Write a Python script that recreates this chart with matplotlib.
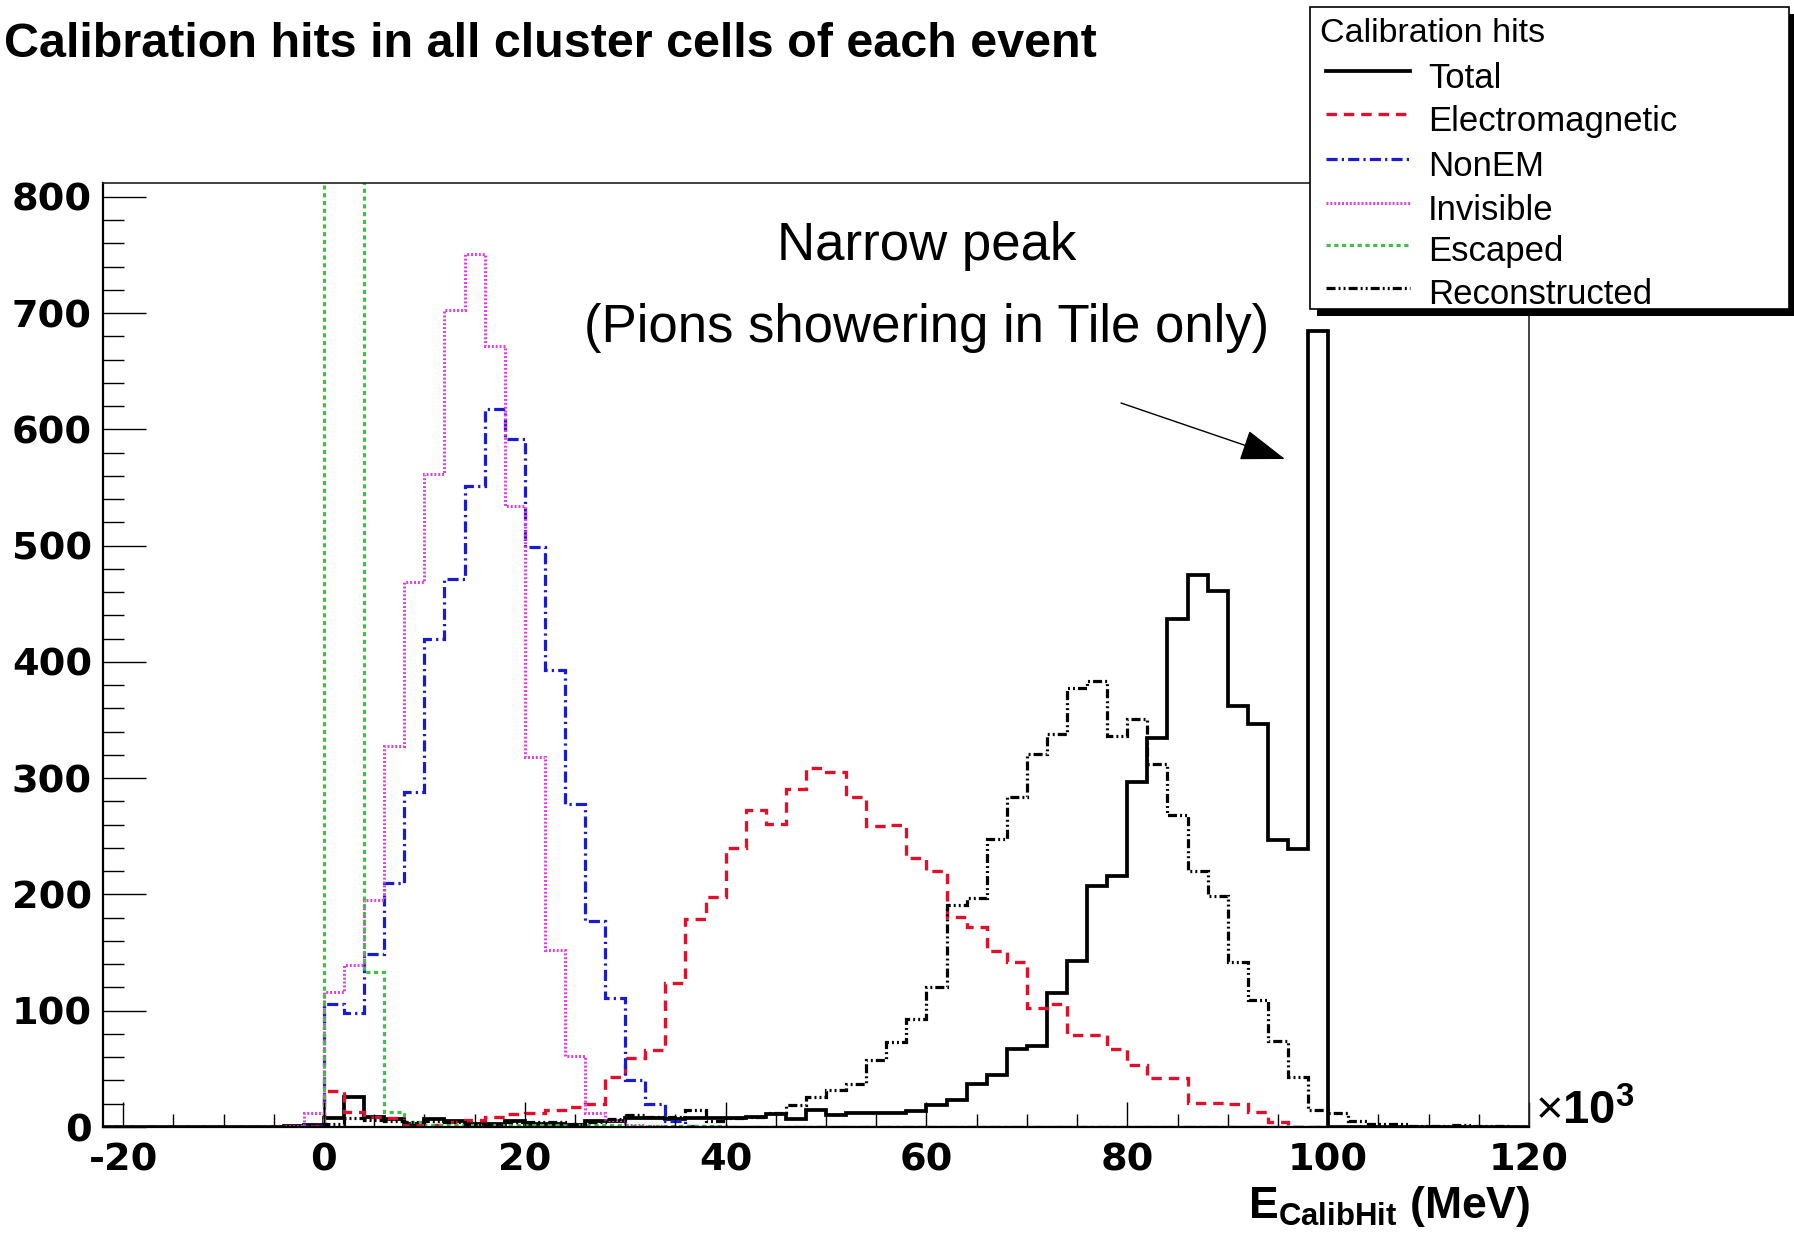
import numpy as np
import matplotlib
matplotlib.use("Agg")
import matplotlib.pyplot as plt
from matplotlib import font_manager as fm
from matplotlib.patches import Rectangle
from matplotlib.lines import Line2D

# ---------------- data (bins of 2 x10^3 MeV, from -22 to 120) ----------------
bin_lo = -22
bin_width = 2
total = [0, 0, 0, 0, 0, 0, 0, 0, 0, 1, 2,
         8, 26, 9, 7, 3, 7, 5, 3, 3, 5,
         3, 3, 2, 5, 5, 8, 8, 7, 8, 8,
         8, 9, 11, 7, 15, 10, 12, 12, 12, 14,
         19, 23, 37, 45, 67, 70, 115, 143, 207, 216,
         297, 335, 437, 475, 461, 362, 347, 247, 239, 685,
         0, 0, 0, 0, 0, 0, 0, 0, 0, 0]
electromagnetic = [0, 0, 0, 0, 0, 0, 0, 0, 0, 0, 1,
                   31, 13, 9, 8, 3, 2, 4, 6, 9, 11,
                   12, 15, 17, 20, 43, 59, 66, 124, 179, 198,
                   240, 273, 261, 291, 309, 305, 284, 259, 260, 231,
                   220, 181, 172, 151, 142, 102, 106, 79, 79, 67,
                   53, 42, 42, 21, 21, 20, 13, 4, 0, 0,
                   0, 0, 0, 0, 0, 0, 0, 0, 0, 0]
nonem = [0, 0, 0, 0, 0, 0, 0, 0, 0, 0, 1,
         106, 98, 149, 210, 288, 420, 471, 551, 618, 592,
         499, 393, 278, 177, 111, 40, 20, 5, 1, 0,
         0, 0, 0, 0, 0, 0, 0, 0, 0, 0,
         0, 0, 0, 0, 0, 0, 0, 0, 0, 0,
         0, 0, 0, 0, 0, 0, 0, 0, 0, 0,
         0, 0, 0, 0, 0, 0, 0, 0, 0, 0]
invisible = [0, 0, 0, 0, 0, 0, 0, 0, 0, 1, 12,
             116, 139, 195, 328, 469, 562, 703, 751, 672, 534,
             318, 152, 61, 12, 6, 2, 1, 0, 0, 0,
             0, 0, 0, 0, 0, 0, 0, 0, 0, 0,
             0, 0, 0, 0, 0, 0, 0, 0, 0, 0,
             0, 0, 0, 0, 0, 0, 0, 0, 0, 0,
             0, 0, 0, 0, 0, 0, 0, 0, 0, 0]
escaped = [0, 0, 0, 0, 0, 0, 0, 0, 0, 0, 0,
           830, 830, 133, 13, 4, 2, 2, 2, 2, 2,
           2, 2, 2, 2, 2, 1, 1, 1, 1, 1,
           0, 0, 0, 0, 0, 0, 0, 0, 0, 0,
           0, 0, 0, 0, 0, 0, 0, 0, 0, 0,
           0, 0, 0, 0, 0, 0, 0, 0, 0, 0,
           0, 0, 0, 0, 0, 0, 0, 0, 0, 0]
reconstructed = [0, 0, 0, 0, 0, 0, 0, 0, 0, 0, 0,
                 3, 8, 6, 5, 4, 5, 4, 3, 3, 4,
                 4, 4, 3, 4, 7, 10, 9, 9, 15, 5,
                 8, 9, 12, 19, 26, 32, 37, 58, 73, 93,
                 120, 191, 197, 248, 284, 321, 338, 378, 384, 336,
                 351, 312, 268, 220, 199, 142, 109, 74, 43, 15,
                 12, 5, 3, 3, 1, 1, 2, 1, 1, 0]

series_names = ["Total", "Electromagnetic", "NonEM", "Invisible", "Escaped", "Reconstructed"]
x_ticks = [-20, 0, 20, 40, 60, 80, 100, 120]
y_ticks = [0, 100, 200, 300, 400, 500, 600, 700, 800]

# ---------------- styles ----------------
W, H = 1794, 1237
plt.rcParams['lines.scale_dashes'] = False
plt.rcParams['mathtext.fontset'] = 'custom'
plt.rcParams['mathtext.rm'] = 'Liberation Sans'
plt.rcParams['mathtext.bf'] = 'Liberation Sans:bold'
plt.rcParams['mathtext.it'] = 'Liberation Sans:italic'

styles = [
    dict(color='black', lw=2.7, ls='-'),
    dict(color='#e0102a', lw=2.4, ls=(0, (7.5, 5.0))),
    dict(color='#1a1ad0', lw=2.3, ls=(0, (8.0, 3.0, 1.6, 3.0))),
    dict(color='#e040e0', lw=2.2, ls=(0, (1.4, 1.4))),
    dict(color='#40c040', lw=2.3, ls=(0, (3.0, 2.6))),
    dict(color='black', lw=2.3, ls=(0, (6.5, 2.2, 1.4, 2.2, 1.4, 2.2))),
]

fig = plt.figure(figsize=(W / 100, H / 100), dpi=100)
fig.patch.set_facecolor('white')

ax_l, ax_r, ax_t, ax_b = 103, 1529, 183, 1127
ax = fig.add_axes([ax_l / W, 1 - ax_b / H, (ax_r - ax_l) / W, (ax_b - ax_t) / H])

edges = np.arange(len(total) + 1) * bin_width + bin_lo
data = [total, electromagnetic, nonem, invisible, escaped, reconstructed]
for vals, st in zip(data, styles):
    ax.stairs(vals, edges, baseline=0, color=st['color'], lw=st['lw'], ls=st['ls'])

ax.set_xlim(-22, 120)
ax.set_ylim(0, 812)
ax.set_xticks(x_ticks)
ax.set_xticks(np.arange(-20, 121, 5), minor=True)
ax.set_yticks(y_ticks)
ax.set_yticks(np.arange(0, 801, 20), minor=True)
ax.set_xticklabels([str(t) for t in x_ticks])
ax.set_yticklabels([str(t) for t in y_ticks])

for lab in ax.get_xticklabels() + ax.get_yticklabels():
    lab.set_fontfamily('DejaVu Sans')
    lab.set_fontweight('bold')
    lab.set_fontsize(27.5)

ax.tick_params(axis='y', which='major', direction='in', length=31, width=1.0, pad=8, left=True, right=False)
ax.tick_params(axis='y', which='minor', direction='in', length=15, width=1.0, left=True, right=False)
ax.tick_params(axis='x', which='major', direction='in', length=18, width=1.0, pad=11, bottom=True, top=False)
ax.tick_params(axis='x', which='minor', direction='in', length=9.5, width=1.0, bottom=True, top=False)
for s in ['left', 'bottom']:
    ax.spines[s].set_linewidth(1.6)
for s in ['top', 'right']:
    ax.spines[s].set_linewidth(1.2)
    ax.spines[s].set_color('#222222')

# ---------------- overlay in pixel coordinates ----------------
ov = fig.add_axes([0, 0, 1, 1], zorder=10)
ov.set_xlim(0, W)
ov.set_ylim(H, 0)
ov.axis('off')
ov.patch.set_visible(False)

# title, kept fully inside the figure
title = ov.text(4, 57, "Calibration hits in all cluster cells of each event",
                ha='left', va='baseline', fontsize=36, fontweight='bold', family='Liberation Sans')
fig.canvas.draw()
bb = title.get_window_extent()
title.set_fontsize(36 * (1100 - 4) / bb.width)

# annotation
ov.text(927, 246, "Narrow peak", ha='center', va='center', fontsize=38, family='Liberation Sans')
ov.text(927, 328, "(Pions showering in Tile only)", ha='center', va='center', fontsize=38,
        family='Liberation Sans')
ov.annotate('', xy=(1285, 459), xytext=(1121, 403),
            arrowprops=dict(arrowstyle='-|>,head_length=1.3,head_width=0.45', lw=1.0,
                            color='black', mutation_scale=22, shrinkA=0, shrinkB=0))

# x10^3 and axis title
ov.text(1535, 1124, r'$\times\mathbf{10^{3}}$', ha='left', va='baseline', fontsize=34)
ov.text(1530, 1218, r'$\mathbf{E_{CalibHit}}$ (MeV)', ha='right', va='baseline', fontsize=32,
        fontweight='bold', family='Liberation Sans')

# legend box with ROOT-like shadow
lx0, ly0, lx1, ly1 = 1310, 7, 1789, 309
ov.add_patch(Rectangle((lx0 + 7, ly0 + 7), lx1 - lx0, ly1 - ly0, facecolor='black', edgecolor='none', zorder=1))
ov.add_patch(Rectangle((lx0, ly0), lx1 - lx0, ly1 - ly0, facecolor='white', edgecolor='black', lw=1.2, zorder=2))
ov.text(1320, 34, "Calibration hits", ha='left', va='center', fontsize=24.5, family='Liberation Sans', zorder=3)
leg_y = [71, 114, 159, 203, 245, 288]
for name, st, yy in zip(series_names, styles, leg_y):
    ov.add_line(Line2D([1326, 1410], [yy, yy], color=st['color'], lw=st['lw'], ls=st['ls'], zorder=3))
    ov.text(1428, yy + 7, name, ha='left', va='center', fontsize=25, family='Liberation Sans', zorder=3)

fig.savefig('out.png', dpi=100, facecolor='white')
